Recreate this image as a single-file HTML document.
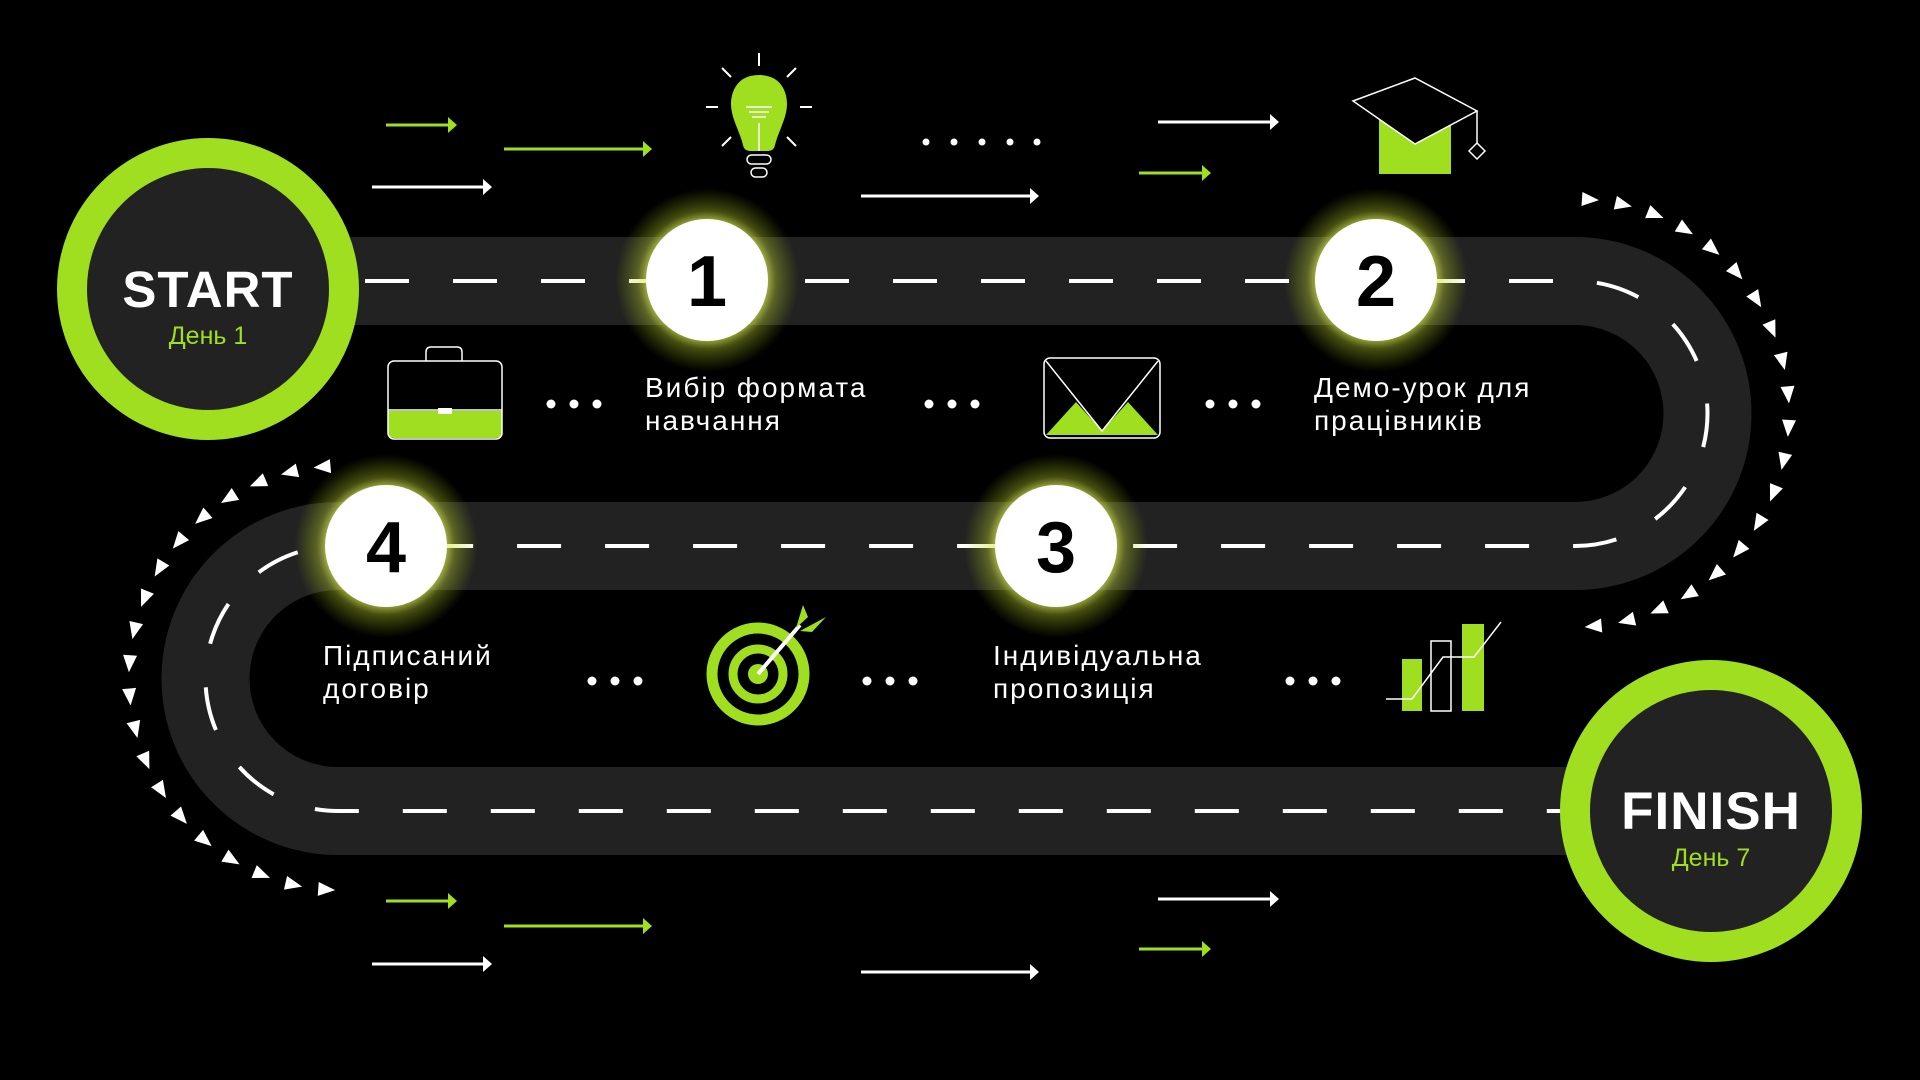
<!DOCTYPE html>
<html><head><meta charset="utf-8"><style>
html,body{margin:0;padding:0;background:#000;width:1920px;height:1080px;overflow:hidden}
svg{display:block}
.t{font-family:"Liberation Sans","DejaVu Sans",sans-serif;fill:#fff;font-size:28px;letter-spacing:2px}
</style></head><body>
<svg width="1920" height="1080" viewBox="0 0 1920 1080" xmlns="http://www.w3.org/2000/svg">
<defs>
<radialGradient id="g" cx="50%" cy="50%" r="50%">
<stop offset="0.6" stop-color="#f0ff70" stop-opacity="0.85"/>
<stop offset="0.75" stop-color="#c8e030" stop-opacity="0.35"/>
<stop offset="1" stop-color="#a0c000" stop-opacity="0"/>
</radialGradient>
<polygon id="tr" points="-8,-7 9,0 -8,7" fill="#fff"/>
<polygon id="tl" points="8,-7 -9,0 8,7" fill="#fff"/>
</defs>
<rect width="1920" height="1080" fill="#000"/>

<path d="M340 281 H1575 A132.5 132.5 0 0 1 1575 546 H338 A132.5 132.5 0 0 0 338 811 H1640" fill="none" stroke="#222" stroke-width="88"/>
<path d="M365 281 H1575 A132.5 132.5 0 0 1 1575 546 H338 A132.5 132.5 0 0 0 338 811 H1600" fill="none" stroke="#fff" stroke-width="4" stroke-dasharray="44 44"/>

<circle cx="707" cy="280" r="92" fill="url(#g)"/>
<circle cx="1376" cy="280" r="92" fill="url(#g)"/>
<circle cx="1056" cy="546" r="92" fill="url(#g)"/>
<circle cx="386" cy="546" r="92" fill="url(#g)"/>

<g font-family="Liberation Sans, sans-serif" font-weight="bold" font-size="72" text-anchor="middle" fill="#000">
<circle cx="707" cy="280" r="61" fill="#fff"/><text x="707" y="306">1</text>
<circle cx="1376" cy="280" r="61" fill="#fff"/><text x="1376" y="306">2</text>
<circle cx="1056" cy="546" r="61" fill="#fff"/><text x="1056" y="572">3</text>
<circle cx="386" cy="546" r="61" fill="#fff"/><text x="386" y="572">4</text>
</g>

<circle cx="208" cy="289" r="136" fill="#222" stroke="#9fdf1f" stroke-width="30"/>
<text x="208" y="307" text-anchor="middle" font-family="Liberation Sans, sans-serif" font-weight="bold" font-size="51" fill="#fff" letter-spacing="1">START</text>
<text x="208" y="344" text-anchor="middle" font-family="Liberation Sans, sans-serif" font-size="25" fill="#9fdf1f">День 1</text>
<circle cx="1711" cy="811" r="136" fill="#222" stroke="#9fdf1f" stroke-width="30"/>
<text x="1711" y="829" text-anchor="middle" font-family="Liberation Sans, sans-serif" font-weight="bold" font-size="53" fill="#fff" letter-spacing="1">FINISH</text>
<text x="1711" y="866" text-anchor="middle" font-family="Liberation Sans, sans-serif" font-size="25" fill="#9fdf1f">День 7</text>

<text class="t" x="645" y="397">Вибір формата</text>
<text class="t" x="645" y="430">навчання</text>
<text class="t" x="1314" y="397">Демо-урок для</text>
<text class="t" x="1314" y="430">працівників</text>
<text class="t" x="323" y="665">Підписаний</text>
<text class="t" x="323" y="698">договір</text>
<text class="t" x="993" y="665">Індивідуальна</text>
<text class="t" x="993" y="698">пропозиція</text>

<g fill="#fff">
<circle cx="551" cy="404" r="4.5"/><circle cx="574" cy="404" r="4.5"/><circle cx="597" cy="404" r="4.5"/>
<circle cx="929" cy="404" r="4.5"/><circle cx="952" cy="404" r="4.5"/><circle cx="975" cy="404" r="4.5"/>
<circle cx="1210" cy="404" r="4.5"/><circle cx="1233" cy="404" r="4.5"/><circle cx="1256" cy="404" r="4.5"/>
<circle cx="592" cy="681" r="4.5"/><circle cx="615" cy="681" r="4.5"/><circle cx="638" cy="681" r="4.5"/>
<circle cx="867" cy="681" r="4.5"/><circle cx="890" cy="681" r="4.5"/><circle cx="913" cy="681" r="4.5"/>
<circle cx="1290" cy="681" r="4.5"/><circle cx="1313" cy="681" r="4.5"/><circle cx="1336" cy="681" r="4.5"/>
<circle cx="926" cy="142" r="3.5"/><circle cx="954" cy="142" r="3.5"/><circle cx="982" cy="142" r="3.5"/><circle cx="1010" cy="142" r="3.5"/><circle cx="1037" cy="142" r="3.5"/>
</g>

<g stroke-width="3" fill="none">
<g stroke="#9fdf1f"><path d="M386 125H452"/><path d="M504 149H648"/><path d="M1139 173H1206"/><path d="M386 901H452"/><path d="M504 926H648"/><path d="M1139 949H1206"/></g>
<g stroke="#fff"><path d="M372 187H487"/><path d="M861 196H1034"/><path d="M1158 122H1274"/><path d="M372 964H487"/><path d="M861 972H1034"/><path d="M1158 899H1274"/></g>
</g>
<g fill="#9fdf1f"><polygon points="448,117 457,125 448,133"/><polygon points="643,141 652,149 643,157"/><polygon points="1202,165 1211,173 1202,181"/><polygon points="448,893 457,901 448,909"/><polygon points="643,918 652,926 643,934"/><polygon points="1202,941 1211,949 1202,957"/></g>
<g fill="#fff"><polygon points="483,179 492,187 483,195"/><polygon points="1030,188 1039,196 1030,204"/><polygon points="1270,114 1279,122 1270,130"/><polygon points="483,956 492,964 483,972"/><polygon points="1030,964 1039,972 1030,980"/><polygon points="1270,891 1279,899 1270,907"/></g>

<g stroke="#fff" stroke-width="2" fill="none">
<path d="M759 53V66"/><path d="M722 68L731 77"/><path d="M796 68L787 77"/><path d="M706 107H718"/><path d="M800 107H812"/><path d="M722 146L731 137"/><path d="M796 146L787 137"/>
</g>
<path d="M759 75C737 75 731 92 731 104C731 118 740 132 743 145C744 150 747 151 751 151H767C771 151 774 150 775 145C778 132 787 118 787 104C787 92 781 75 759 75Z" fill="#9fdf1f"/>
<g stroke="#fff" stroke-width="1.5" fill="none"><path d="M746 107H772M749 112H769M752 117H766"/><path d="M759 123V151"/><rect x="747" y="155" width="24" height="9" rx="4.5"/><rect x="751" y="168" width="16" height="9" rx="4.5"/></g>

<path d="M1379 116L1379 174H1451V116L1414 136Z" fill="#9fdf1f"/>
<g stroke="#fff" stroke-width="1.5" fill="none">
<path d="M1353 101L1415 78L1477 111L1415 144Z" fill="#000"/>
<path d="M1477 111V143"/><path d="M1477 143L1485 151L1477 159L1469 151Z"/>
</g>

<path d="M388 411H502V432Q502 438 496 438H394Q388 438 388 432Z" fill="#9fdf1f"/>
<g stroke="#fff" stroke-width="1.5" fill="none"><rect x="388" y="361" width="114" height="78" rx="6"/><path d="M388 410H502"/><path d="M426 361V352Q426 347 431 347H457Q462 347 462 352V361"/></g>
<rect x="438" y="408" width="14" height="6" fill="#fff"/>

<path d="M1046 435L1076 402L1102 431L1128 402L1158 435Z" fill="#9fdf1f"/>
<g stroke="#fff" stroke-width="1.5" fill="none"><rect x="1044" y="358" width="116" height="80" rx="6"/><path d="M1046 361L1102 431L1158 361"/></g>

<g fill="none" stroke="#9fdf1f">
<circle cx="758" cy="674" r="46" stroke-width="11"/>
<circle cx="758" cy="674" r="25" stroke-width="9"/>
</g>
<circle cx="758" cy="674" r="10" fill="#9fdf1f"/>
<path d="M758 674L800 625" stroke="#fff" stroke-width="4"/>
<path d="M796 628L803 605L808 617Z M800 631L826 617L812 632Z" fill="#9fdf1f"/>

<rect x="1402" y="659" width="20" height="52" fill="#9fdf1f"/>
<rect x="1431" y="641" width="20" height="70" fill="none" stroke="#fff" stroke-width="1.5"/>
<rect x="1462" y="624" width="22" height="87" fill="#9fdf1f"/>
<path d="M1386 699H1412L1443 657H1474L1501 622" stroke="#fff" stroke-width="1.5" fill="none"/>

<g>
<use href="#tr" transform="rotate(4 1575 413) translate(1575 199)"/>
<use href="#tr" transform="rotate(13 1575 413) translate(1575 199)"/>
<use href="#tr" transform="rotate(22 1575 413) translate(1575 199)"/>
<use href="#tr" transform="rotate(31 1575 413) translate(1575 199)"/>
<use href="#tr" transform="rotate(40 1575 413) translate(1575 199)"/>
<use href="#tr" transform="rotate(49 1575 413) translate(1575 199)"/>
<use href="#tr" transform="rotate(58 1575 413) translate(1575 199)"/>
<use href="#tr" transform="rotate(67 1575 413) translate(1575 199)"/>
<use href="#tr" transform="rotate(76 1575 413) translate(1575 199)"/>
<use href="#tr" transform="rotate(85 1575 413) translate(1575 199)"/>
<use href="#tr" transform="rotate(94 1575 413) translate(1575 199)"/>
<use href="#tr" transform="rotate(103 1575 413) translate(1575 199)"/>
<use href="#tr" transform="rotate(112 1575 413) translate(1575 199)"/>
<use href="#tr" transform="rotate(121 1575 413) translate(1575 199)"/>
<use href="#tr" transform="rotate(130 1575 413) translate(1575 199)"/>
<use href="#tr" transform="rotate(139 1575 413) translate(1575 199)"/>
<use href="#tr" transform="rotate(148 1575 413) translate(1575 199)"/>
<use href="#tr" transform="rotate(157 1575 413) translate(1575 199)"/>
<use href="#tr" transform="rotate(166 1575 413) translate(1575 199)"/>
<use href="#tr" transform="rotate(175 1575 413) translate(1575 199)"/>
</g>
<g>
<use href="#tl" transform="rotate(-5 341 678) translate(341 466)"/>
<use href="#tl" transform="rotate(-14 341 678) translate(341 466)"/>
<use href="#tl" transform="rotate(-23 341 678) translate(341 466)"/>
<use href="#tl" transform="rotate(-32 341 678) translate(341 466)"/>
<use href="#tl" transform="rotate(-41 341 678) translate(341 466)"/>
<use href="#tl" transform="rotate(-50 341 678) translate(341 466)"/>
<use href="#tl" transform="rotate(-59 341 678) translate(341 466)"/>
<use href="#tl" transform="rotate(-68 341 678) translate(341 466)"/>
<use href="#tl" transform="rotate(-77 341 678) translate(341 466)"/>
<use href="#tl" transform="rotate(-86 341 678) translate(341 466)"/>
<use href="#tl" transform="rotate(-95 341 678) translate(341 466)"/>
<use href="#tl" transform="rotate(-104 341 678) translate(341 466)"/>
<use href="#tl" transform="rotate(-113 341 678) translate(341 466)"/>
<use href="#tl" transform="rotate(-122 341 678) translate(341 466)"/>
<use href="#tl" transform="rotate(-131 341 678) translate(341 466)"/>
<use href="#tl" transform="rotate(-140 341 678) translate(341 466)"/>
<use href="#tl" transform="rotate(-149 341 678) translate(341 466)"/>
<use href="#tl" transform="rotate(-158 341 678) translate(341 466)"/>
<use href="#tl" transform="rotate(-167 341 678) translate(341 466)"/>
<use href="#tl" transform="rotate(-176 341 678) translate(341 466)"/>
</g>
</svg>
</body></html>
